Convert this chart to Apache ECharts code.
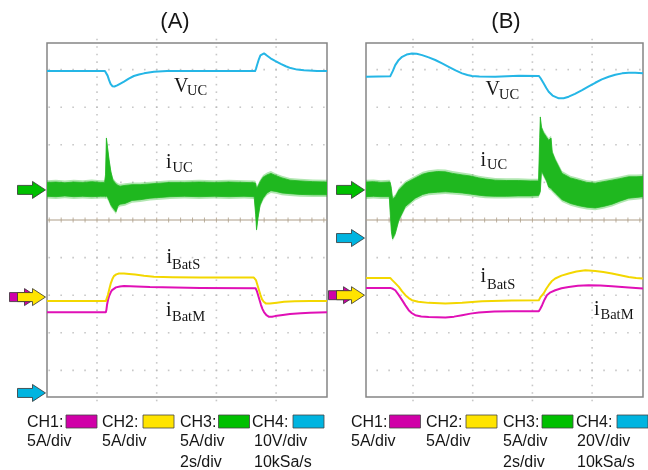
<!DOCTYPE html>
<html>
<head>
<meta charset="utf-8">
<script src="https://cdn.jsdelivr.net/npm/echarts@6/dist/echarts.min.js"></script>
<style>
  html, body { margin: 0; padding: 0; background: #ffffff; }
  #chart { width: 648px; height: 470px; }
</style>
</head>
<body>
<div id="chart"></div>
<script>
// ---------- recorded traces: time in s (2 s/div), values in V or A ----------

// Case (A)
const vucA = [[0,85.6],[1.94,85.6],[1.99,85.3],[2.03,84.4],[2.08,83.2],[2.13,82.2],[2.19,81.6],[2.26,81.5],[2.35,81.8],[2.46,82.3],[2.58,82.8],[2.74,83.6],[2.91,84.3],[3.08,84.7],[3.25,85.0],[3.58,85.4],[4.02,85.6],[5.13,85.6],[6.97,85.6],[7.00,86.2],[7.04,87.3],[7.10,88.8],[7.15,89.8],[7.21,90.3],[7.27,90.3],[7.34,89.9],[7.49,89.0],[7.64,88.3],[7.83,87.5],[8.00,86.9],[8.16,86.4],[8.38,86.0],[8.61,85.8],[9.05,85.6],[9.38,85.6]];
// iUC noise envelope: [t, lower, upper]
const iucA = [[0.00,-0.85,1.0],[0.30,-0.9,1.05],[0.60,-0.8,0.95],[0.90,-0.9,1.05],[1.20,-0.85,1.0],[1.50,-0.9,1.1],[1.80,-0.85,1.0],[1.93,-0.85,1.0],[1.96,-0.9,2.0],[1.99,-0.8,6.9],[2.03,-1.0,5.6],[2.08,-1.4,4.0],[2.14,-2.0,2.4],[2.21,-2.4,1.3],[2.31,-2.9,0.8],[2.38,-2.1,0.6],[2.45,-1.9,0.5],[2.61,-1.8,0.6],[2.85,-1.4,0.7],[3.12,-1.3,0.7],[3.45,-1.1,0.8],[3.79,-1.0,0.9],[4.12,-0.9,1.0],[4.60,-0.85,1.0],[5.10,-0.9,1.05],[5.60,-0.85,1.0],[6.10,-0.9,1.05],[6.60,-0.85,1.0],[6.94,-0.9,0.95],[6.99,-3.3,0.9],[7.02,-5.3,0.2],[7.07,-3.7,0.5],[7.14,-2.0,1.1],[7.24,-1.1,1.7],[7.37,-0.4,2.0],[7.50,-0.1,2.2],[7.67,-0.2,1.9],[7.87,-0.4,1.6],[8.14,-0.5,1.3],[8.48,-0.6,1.2],[8.90,-0.65,1.1],[9.38,-0.65,1.05]];
const ibatSA = [[0,-0.53],[1.97,-0.53],[2.01,-0.3],[2.04,0.27],[2.09,1.1],[2.14,1.86],[2.19,2.4],[2.24,2.79],[2.32,3.02],[2.41,3.13],[2.58,3.15],[2.75,3.08],[2.95,2.99],[3.25,2.83],[3.58,2.70],[4.20,2.64],[5.13,2.62],[6.93,2.59],[6.97,2.50],[7.00,2.26],[7.05,1.6],[7.10,0.93],[7.15,0.3],[7.20,-0.27],[7.26,-0.62],[7.33,-0.84],[7.47,-0.86],[7.70,-0.75],[7.94,-0.63],[8.30,-0.57],[8.81,-0.53],[9.38,-0.53]];
const ibatMA = [[0,-2.03],[1.97,-2.03],[1.99,-1.7],[2.01,-1.06],[2.04,-0.45],[2.08,0.13],[2.13,0.6],[2.18,0.93],[2.24,1.15],[2.31,1.29],[2.44,1.40],[2.58,1.46],[3.00,1.40],[3.45,1.33],[5.13,1.22],[6.99,1.16],[7.03,0.8],[7.07,0.27],[7.12,-0.4],[7.17,-1.06],[7.22,-1.6],[7.27,-1.99],[7.35,-2.4],[7.44,-2.62],[7.54,-2.62],[7.64,-2.53],[7.90,-2.38],[8.14,-2.26],[8.50,-2.16],[8.81,-2.10],[9.38,-2.03]];

// Case (B)
const vucB = [[0,85.8],[0.81,86.0],[0.84,86.8],[0.90,88.9],[0.98,92.0],[1.08,94.4],[1.21,96.4],[1.36,97.6],[1.54,98.2],[1.70,98.0],[1.88,97.3],[2.10,96.1],[2.32,94.7],[2.55,92.9],[2.77,91.1],[3.00,89.2],[3.22,87.6],[3.40,86.7],[3.55,86.2],[3.80,85.9],[4.33,85.8],[5.12,86.3],[5.79,86.2],[5.85,85.0],[5.95,82.3],[6.04,79.8],[6.12,77.8],[6.25,75.8],[6.46,74.3],[6.62,74.4],[6.79,75.2],[7.00,76.7],[7.24,78.7],[7.46,80.7],[7.68,82.6],[7.90,84.4],[8.13,85.8],[8.35,86.9],[8.58,87.6],[8.80,87.9],[9.02,87.9],[9.28,87.6]];
const iucB = [[0.00,-0.9,1.05],[0.25,-0.85,1.1],[0.50,-0.9,1.0],[0.78,-0.9,1.05],[0.81,-3.0,1.0],[0.85,-5.5,0.2],[0.89,-6.5,-1.2],[0.98,-5.8,-0.9],[1.10,-4.0,0.0],[1.32,-2.2,0.9],[1.65,-1.1,1.6],[1.90,-0.6,2.1],[2.10,-0.4,2.3],[2.40,-0.3,2.45],[2.66,-0.25,2.4],[2.90,-0.3,2.2],[3.22,-0.4,2.0],[3.50,-0.55,1.85],[3.78,-0.7,1.6],[4.00,-0.8,1.45],[4.33,-0.85,1.3],[4.70,-0.85,1.25],[5.10,-0.8,1.25],[5.50,-0.8,1.2],[5.78,-0.75,1.2],[5.82,-0.4,7.0],[5.84,-0.2,9.7],[5.88,2.5,8.3],[5.95,2.0,7.6],[6.05,1.2,7.0],[6.12,0.4,6.6],[6.20,0.2,6.9],[6.24,0.0,5.0],[6.34,-0.4,4.0],[6.57,-1.3,2.2],[6.85,-1.8,1.6],[7.13,-2.1,1.3],[7.40,-2.3,1.0],[7.68,-2.4,0.9],[7.95,-2.2,1.1],[8.24,-1.9,1.3],[8.50,-1.5,1.5],[8.80,-1.1,1.75],[9.05,-1.0,1.75],[9.28,-0.9,1.8]];
const ibatSB = [[0,2.30],[0.81,2.30],[0.88,2.0],[0.98,1.6],[1.10,1.10],[1.21,0.5],[1.32,0.0],[1.43,-0.38],[1.54,-0.66],[1.75,-0.88],[2.10,-1.02],[2.66,-1.10],[3.22,-1.02],[3.89,-0.80],[4.89,-0.70],[5.79,-0.66],[5.84,-0.3],[5.95,0.23],[6.04,0.85],[6.12,1.33],[6.22,1.85],[6.34,2.22],[6.55,2.6],[6.79,2.89],[7.05,3.15],[7.35,3.32],[7.68,3.23],[7.95,3.08],[8.24,2.89],[8.52,2.65],[8.80,2.43],[9.05,2.28],[9.28,2.22]];
const ibatMB = [[0,0.97],[0.81,0.97],[0.90,0.85],[0.98,0.66],[1.10,0.0],[1.21,-0.66],[1.32,-1.35],[1.43,-1.99],[1.54,-2.40],[1.65,-2.66],[1.85,-2.82],[2.10,-2.89],[2.66,-2.97],[2.95,-2.85],[3.22,-2.66],[3.50,-2.45],[3.78,-2.30],[4.30,-2.18],[4.89,-2.13],[5.79,-2.13],[5.84,-1.8],[5.90,-1.33],[5.98,-0.6],[6.06,0.0],[6.18,0.38],[6.34,0.66],[6.55,0.92],[6.79,1.10],[7.10,1.25],[7.46,1.33],[7.85,1.28],[8.24,1.20],[8.80,1.02],[9.28,0.89]];

// Legend texts
const legendChannels = ['CH1:', 'CH2:', 'CH3:', 'CH4:'];
const legendScalesA = ['5A/div', '5A/div', '5A/div', '10V/div'];
const legendScalesB = ['5A/div', '5A/div', '5A/div', '20V/div'];
const legendTimebase = ['2s/div', '10kSa/s'];
const panelTitles = ['(A)', '(B)'];

// ---------- styling / layout ----------
const C_MAG = '#e010b6', C_YEL = '#f3d700', C_GRN = '#1fb81f', C_CYAN = '#25b6e6';
const SW_MAG = '#d000a8', SW_YEL = '#ffe400', SW_GRN = '#00c000', SW_CYAN = '#00b4e0';
const DIV_PX = 37.6;          // vertical division
const H = 354 / 2 / DIV_PX;   // half screen height, in divisions
const FUZZ = 0.3;             // soft fringe around the noise band, A

const panels = [
  { grid: { left: 47, top: 43, width: 280, height: 354 }, tMax: 9.38, tGrid0: 1.675,
    ch: { 1: { scale: 5, ground: -2.05 }, 2: { scale: 5, ground: -2.05 }, 3: { scale: 5, ground: 0.80 }, 4: { scale: 10, ground: -4.60 } },
    vuc: vucA, iuc: iucA, ibs: ibatSA, ibm: ibatMA },
  { grid: { left: 366, top: 43, width: 277, height: 354 }, tMax: 9.28, tGrid0: 1.575,
    ch: { 1: { scale: 5, ground: -2.0 }, 2: { scale: 5, ground: -2.0 }, 3: { scale: 5, ground: 0.80 }, 4: { scale: 20, ground: -0.48 } },
    vuc: vucB, iuc: iucB, ibs: ibatSB, ibm: ibatMB }
];

const grids = [], xAxes = [], yAxes = [], series = [];

panels.forEach((p, pi) => {
  grids.push(Object.assign({ show: true, borderColor: '#858585', borderWidth: 1.5, backgroundColor: '#ffffff' }, p.grid));
  xAxes.push({ type: 'value', gridIndex: pi, min: 0, max: p.tMax, show: false });
  const base = pi * 5;
  // graticule axis in divisions
  yAxes.push({ type: 'value', gridIndex: pi, min: -H, max: H, show: false });
  // one axis per channel: its own units/div and ground offset
  for (let c = 1; c <= 4; c++) {
    const { scale, ground } = p.ch[c];
    yAxes.push({ type: 'value', gridIndex: pi, min: (-H - ground) * scale, max: (H - ground) * scale, show: false });
  }
  p.base = base;

  // graticule dots
  const vDots = [], hDots = [], ticks = [];
  for (let k = 0; k < 4; k++) {
    const t = p.tGrid0 + 2 * k;
    for (let j = -24; j <= 24; j++) if (j !== 0) vDots.push([t, j * 0.2]);
  }
  for (let m = -10; m < 40; m++) {
    const t = p.tGrid0 + 0.4 * m;
    if (t <= 0.05 || t >= p.tMax - 0.05) continue;
    ticks.push([t, 0]);
    for (let d = -4; d <= 4; d++) if (d !== 0) hDots.push([t, d]);
  }
  series.push({ type: 'scatter', xAxisIndex: pi, yAxisIndex: base, data: vDots, clip: false, symbol: 'rect',
    symbolSize: 1.6, itemStyle: { color: '#b9b9b9' }, silent: true, z: 1 });
  series.push({ type: 'scatter', xAxisIndex: pi, yAxisIndex: base, data: hDots, symbol: 'rect',
    symbolSize: 1.6, itemStyle: { color: '#b9b9b9' }, silent: true, z: 1 });
  series.push({ type: 'line', xAxisIndex: pi, yAxisIndex: base, data: [[0, 0], [p.tMax, 0]], showSymbol: false,
    lineStyle: { color: '#ad9d88', width: 1.2 }, silent: true, z: 1 });
  series.push({ type: 'scatter', xAxisIndex: pi, yAxisIndex: base, data: ticks, symbol: 'rect',
    symbolSize: [1, 5], itemStyle: { color: '#ad9d88' }, silent: true, z: 1 });

  // iUC noise envelope as a filled band with a soft fringe
  const band = p.iuc;
  series.push({ type: 'custom', xAxisIndex: pi, yAxisIndex: base + 3, data: [[0, 0]], clip: true, z: 3, silent: true,
    renderItem: (params, api) => {
      const poly = (dx) => band.map(d => api.coord([d[0], d[2] + dx]))
        .concat(band.map(d => api.coord([d[0], d[1] - dx])).reverse());
      return { type: 'group', children: [
        { type: 'polygon', shape: { points: poly(FUZZ) }, style: { fill: C_GRN, opacity: 0.35 } },
        { type: 'polygon', shape: { points: poly(0) }, style: { fill: C_GRN, stroke: C_GRN, lineWidth: 0.8 } }
      ] };
    } });

  const lineOpts = (data, axis, color) => ({ type: 'line', xAxisIndex: pi, yAxisIndex: base + axis, data,
    showSymbol: false, lineStyle: { color, width: 2, join: 'round' }, z: 4, silent: true });
  series.push(lineOpts(p.vuc, 4, C_CYAN));
  series.push(lineOpts(p.ibm, 1, C_MAG));
  series.push(lineOpts(p.ibs, 2, C_YEL));
});

const chart = echarts.init(document.getElementById('chart'), null, { renderer: 'canvas' });
chart.setOption({ animation: false, backgroundColor: '#ffffff', grid: grids, xAxis: xAxes, yAxis: yAxes, series });

// ---------- annotations ----------
const g = [];
const SERIF = '"Liberation Serif", "Times New Roman", serif';
const SANS = '"Liberation Sans", Arial, sans-serif';
function txt(x, baseline, text, size, family, align) {
  g.push({ type: 'text', z: 20, style: { text, x, y: baseline - 0.34 * size, font: size + 'px ' + family,
    fill: '#161616', align: align || 'left', verticalAlign: 'middle' } });
}
function label(x, baseline, main, subX, subBaseline, sub) {
  txt(x, baseline, main, 20, SERIF);
  txt(subX, subBaseline, sub, 14.5, SERIF);
}
function arrow(tipX, y, color) {
  g.push({ type: 'polygon', z: 20, shape: { points: [[tipX, y], [tipX - 13, y - 8.5], [tipX - 13, y - 4.5], [tipX - 28, y - 4.5],
    [tipX - 28, y + 4.5], [tipX - 13, y + 4.5], [tipX - 13, y + 8.5]] }, style: { fill: color, stroke: '#333', lineWidth: 0.8 } });
}
function swatch(x, color) {
  g.push({ type: 'rect', z: 20, shape: { x, y: 415, width: 31, height: 13 }, style: { fill: color, stroke: '#444', lineWidth: 0.8 } });
}

// titles
txt(175, 29.5, panelTitles[0], 22, SANS, 'center');
txt(506, 29.5, panelTitles[1], 22, SANS, 'center');

// trace names
label(174, 93.3, 'V', 187, 96, 'UC');
label(166, 170, 'i', 172.5, 173.3, 'UC');
label(166.5, 265, 'i', 172, 270, 'BatS');
label(166, 318, 'i', 172, 321.7, 'BatM');
label(485.5, 96.7, 'V', 499, 100, 'UC');
label(480.5, 168, 'i', 487, 170.5, 'UC');
label(480.5, 283.3, 'i', 487, 290, 'BatS');
label(594, 316.7, 'i', 600.5, 320, 'BatM');

// channel ground markers
panels.forEach((p) => {
  const tip = p.grid.left - 1.5;
  const yOf = c => chart.convertToPixel({ yAxisIndex: p.base + c }, 0);
  arrow(tip, yOf(4), SW_CYAN);
  arrow(tip, yOf(3), SW_GRN);
  arrow(tip - 8, yOf(1), SW_MAG);
  arrow(tip, yOf(2), SW_YEL);
});

// legends
const legendX = [
  { ch: [27, 102, 180, 252], sw: [66, 143, 218.5, 293], txt: [27, 102, 180, 254], scales: legendScalesA },
  { ch: [351, 426, 503, 576], sw: [389.5, 466, 542, 617], txt: [351, 426, 503, 577], scales: legendScalesB }
];
const swColors = [SW_MAG, SW_YEL, SW_GRN, SW_CYAN];
legendX.forEach(L => {
  for (let i = 0; i < 4; i++) {
    txt(L.ch[i], 428.3, legendChannels[i], 16, SANS);
    swatch(L.sw[i], swColors[i]);
    txt(L.txt[i], 446.7, L.scales[i], 16, SANS);
  }
  txt(L.txt[2], 468.3, legendTimebase[0], 16, SANS);
  txt(L.txt[3], 468.3, legendTimebase[1], 16, SANS);
});

chart.setOption({ graphic: { elements: g } });
</script>
</body>
</html>
